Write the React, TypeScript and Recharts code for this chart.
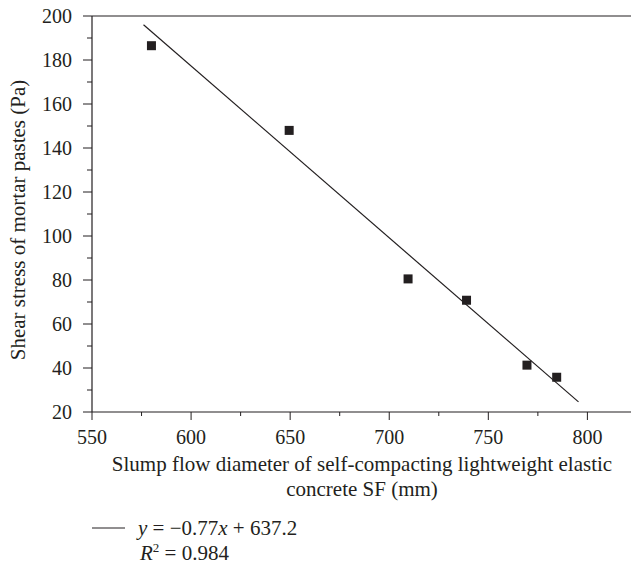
import { ScatterChart, Scatter, XAxis, YAxis, ReferenceLine, Customized } from "recharts";

const INK = "#231f20";
const FONT = "'Liberation Serif', 'DejaVu Serif', serif";
const FS = 20;
const TITLE_FS = 21;

const xMajor = [550, 600, 650, 700, 750, 800];
const xMinor = [575, 625, 675, 725, 775];
const yMajor = [20, 40, 60, 80, 100, 120, 140, 160, 180, 200];
const yMinor = [30, 50, 70, 90, 110, 130, 150, 170, 190];

// slump flow (mm) vs shear stress (Pa)
const measured = [
  { sf: 580, tau: 186.5 },
  { sf: 649.5, tau: 148 },
  { sf: 709.5, tau: 80.5 },
  { sf: 739, tau: 70.8 },
  { sf: 769.5, tau: 41.3 },
  { sf: 784.5, tau: 35.8 },
];

// ends of the fitted line as drawn
const fitted = [
  { sf: 576, tau: 196 },
  { sf: 795.5, tau: 24.6 },
];

const xTicks = [...xMajor, ...xMinor].sort((a, b) => a - b);
const yTicks = [...yMajor, ...yMinor].sort((a, b) => a - b);

function XTick({ x, y, payload }: any) {
  const major = xMajor.includes(payload.value);
  return (
    <g>
      <line x1={x} x2={x} y1={y} y2={y + (major ? 8 : 4)} stroke={INK} strokeWidth={1} />
      {major && (
        <text x={x} y={y + 25} dy="0.35em" textAnchor="middle" fill={INK} fontSize={FS} fontFamily={FONT}>
          {payload.value}
        </text>
      )}
    </g>
  );
}

function YTick({ x, y, payload }: any) {
  const major = yMajor.includes(payload.value);
  return (
    <g>
      <line x1={x} x2={x - (major ? 9 : 5)} y1={y} y2={y} stroke={INK} strokeWidth={1} />
      {major && (
        <text x={x - 20} y={y} dy="0.35em" textAnchor="end" fill={INK} fontSize={FS} fontFamily={FONT}>
          {payload.value}
        </text>
      )}
    </g>
  );
}

function Square({ cx, cy }: any) {
  return <rect x={cx - 4.5} y={cy - 4.5} width={9} height={9} fill={INK} />;
}

function Annotations() {
  return (
    <g fill={INK} fontFamily={FONT} fontSize={TITLE_FS}>
      <text x={18} y={220} dy="0.35em" textAnchor="middle" transform="rotate(-90 18 220)">
        Shear stress of mortar pastes (Pa)
      </text>
      <text x={362} y={464} dy="0.35em" textAnchor="middle">
        Slump flow diameter of self-compacting lightweight elastic
      </text>
      <text x={362} y={489} dy="0.35em" textAnchor="middle">
        concrete SF (mm)
      </text>
      <line x1={92} x2={125} y1={528} y2={528} stroke={INK} strokeWidth={1} />
      <text x={138} y={528} dy="0.35em">
        <tspan fontStyle="italic">y</tspan> = −0.77<tspan fontStyle="italic">x</tspan> + 637.2
      </text>
      <text x={140} y={553} dy="0.35em">
        <tspan fontStyle="italic">R</tspan>
        <tspan fontSize={13} dy={-8}>2</tspan>
        <tspan dy={8}> = 0.984</tspan>
      </text>
    </g>
  );
}

export default function App() {
  return (
    <div style={{ position: "absolute", left: 0, top: 0, width: 631, height: 565, background: "#fff" }}>
      <ScatterChart width={631} height={565} margin={{ top: 16, right: 0, left: 0, bottom: 0 }}>
        <XAxis
          type="number"
          dataKey="sf"
          domain={[550, 822]}
          ticks={xTicks}
          interval={0}
          tick={<XTick />}
          tickLine={false}
          tickSize={0}
          tickMargin={0}
          axisLine={{ stroke: INK, strokeWidth: 1.2 }}
          height={153}
          allowDataOverflow
        />
        <YAxis
          type="number"
          dataKey="tau"
          domain={[20, 200]}
          ticks={yTicks}
          interval={0}
          tick={<YTick />}
          tickLine={false}
          tickSize={0}
          tickMargin={0}
          axisLine={{ stroke: INK, strokeWidth: 1.2 }}
          width={92}
          allowDataOverflow
        />
        <ReferenceLine y={200} stroke={INK} strokeWidth={1.2} />
        <Scatter
          data={fitted}
          line={{ stroke: INK, strokeWidth: 1.2 }}
          shape={() => <g />}
          isAnimationActive={false}
        />
        <Scatter data={measured} shape={<Square />} isAnimationActive={false} />
        <Customized component={<Annotations />} />
      </ScatterChart>
    </div>
  );
}
